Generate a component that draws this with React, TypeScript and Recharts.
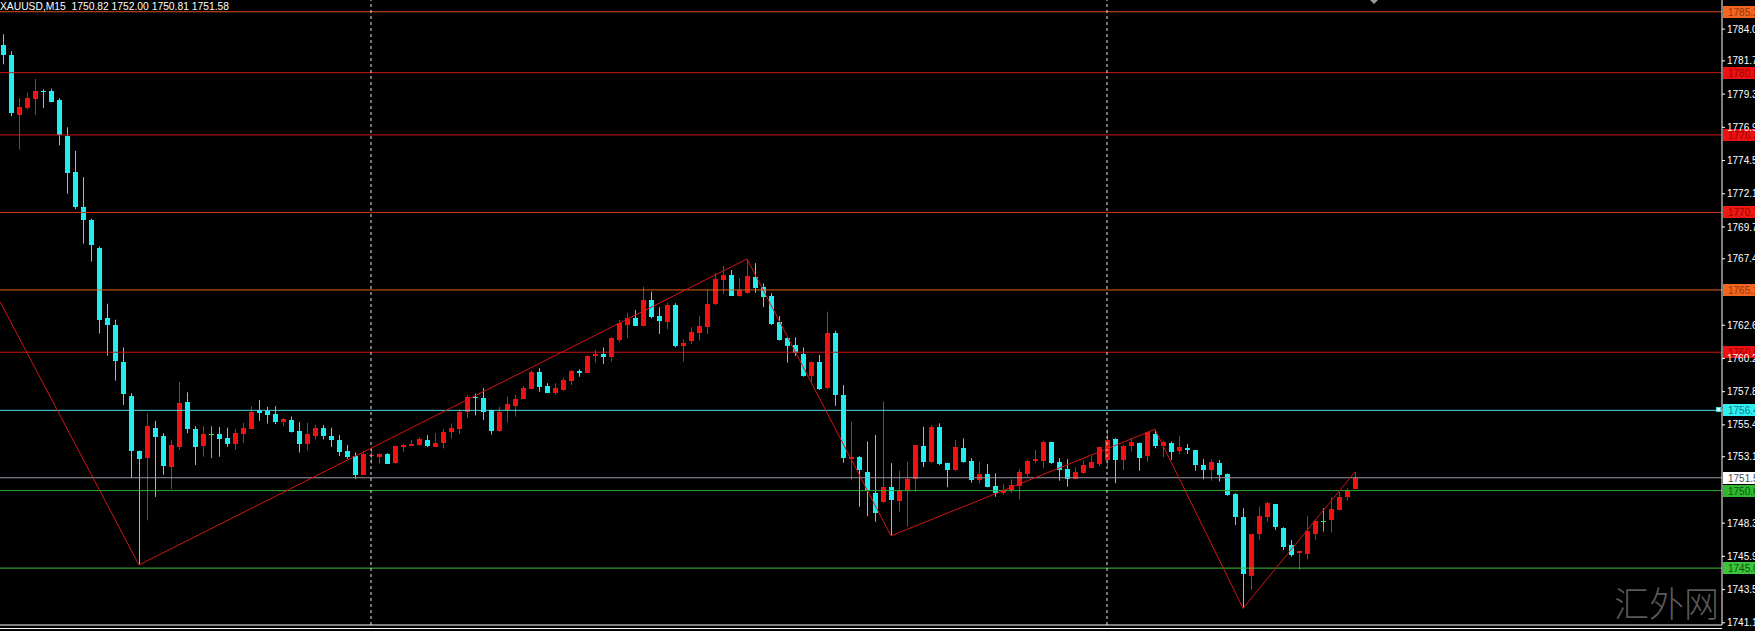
import { ComposedChart, Bar, Line, XAxis, YAxis, ReferenceLine } from 'recharts';

// XAUUSD M15, one entry per candle (oldest first)
const opens = [
  1782.82, 1782.09, 1777.8, 1778.3, 1778.95, 1779.5, 1779.5, 1778.9, 1776.28, 1773.7,
  1771.15, 1770.2, 1768.2, 1763.1, 1762.6, 1759.95, 1757.5, 1753.5, 1752.96, 1755.2,
  1754.6, 1752.35, 1753.8, 1757.05, 1755.1, 1753.85, 1754.73, 1754.75, 1754.45, 1754.0,
  1754.75, 1755.1, 1756.5, 1756.4, 1756.2, 1755.6, 1755.75, 1754.95, 1754.0, 1754.6,
  1755.15, 1754.6, 1754.3, 1753.5, 1753.15, 1751.8, 1753.15, 1753.05, 1753.3, 1752.6,
  1753.8, 1753.9, 1753.95, 1754.3, 1753.8, 1754.1, 1754.85, 1755.15, 1756.35, 1757.45,
  1757.35, 1756.5, 1754.91, 1756.43, 1756.72, 1757.25, 1758.05, 1759.2, 1758.21, 1757.73,
  1757.92, 1758.6, 1759.3, 1759.17, 1760.38, 1760.52, 1760.33, 1761.54, 1762.62, 1763.1,
  1762.55, 1764.43, 1763.27, 1762.86, 1764.07, 1761.1, 1761.41, 1762.02, 1762.5, 1764.12,
  1765.87, 1766.23, 1764.74, 1764.91, 1766.07, 1765.39, 1764.72, 1762.86, 1761.66, 1761.17,
  1760.52, 1758.88, 1759.92, 1758.05, 1762.02, 1757.56, 1752.99, 1753.06, 1751.98, 1750.5,
  1749.78, 1750.89, 1749.93, 1750.58, 1751.47, 1753.88, 1752.74, 1755.27, 1752.63, 1752.14,
  1753.71, 1752.82, 1751.42, 1751.83, 1750.99, 1750.5, 1750.7, 1750.99, 1751.85, 1752.74,
  1752.82, 1754.17, 1752.74, 1752.22, 1751.47, 1751.91, 1752.34, 1752.58, 1752.87, 1754.36,
  1752.87, 1753.88, 1754.07, 1753.15, 1754.75, 1753.88, 1754.12, 1753.47, 1753.71, 1753.59,
  1752.5, 1752.19, 1752.63, 1751.85, 1750.41, 1748.77, 1744.48, 1747.52, 1748.73, 1749.69,
  1747.97, 1746.72, 1746.17, 1746.13, 1747.57, 1748.48, 1748.48, 1749.3, 1750.17, 1750.82,
];
const highs = [
  1783.63, 1782.4, 1779.0, 1779.4, 1780.4, 1779.65, 1779.7, 1779.0, 1776.9, 1775.2,
  1773.3, 1770.3, 1768.3, 1764.15, 1763.0, 1761.0, 1757.7, 1753.55, 1756.24, 1755.7,
  1754.8, 1754.3, 1758.5, 1757.75, 1755.3, 1755.3, 1755.3, 1755.25, 1755.2, 1755.1,
  1755.55, 1756.75, 1757.2, 1756.7, 1756.75, 1755.9, 1756.0, 1755.6, 1755.55, 1755.4,
  1755.4, 1755.2, 1754.65, 1753.95, 1753.4, 1753.5, 1753.7, 1753.35, 1753.35, 1753.9,
  1754.0, 1754.3, 1754.5, 1754.65, 1754.8, 1755.1, 1755.5, 1756.5, 1757.55, 1757.65,
  1758.05, 1756.5, 1756.7, 1757.44, 1757.56, 1758.21, 1759.32, 1759.49, 1758.41, 1758.41,
  1758.84, 1759.37, 1759.42, 1760.45, 1760.81, 1761.0, 1761.73, 1762.98, 1763.5, 1763.7,
  1765.39, 1765.03, 1763.9, 1764.23, 1764.19, 1761.59, 1762.45, 1763.27, 1765.15, 1766.36,
  1766.88, 1766.59, 1765.99, 1767.39, 1767.08, 1765.63, 1764.91, 1763.27, 1761.73, 1761.73,
  1761.0, 1759.97, 1760.45, 1763.58, 1762.21, 1758.28, 1755.63, 1753.15, 1754.2, 1754.67,
  1757.08, 1752.63, 1752.09, 1752.74, 1753.95, 1755.27, 1755.4, 1755.51, 1752.67, 1754.31,
  1754.43, 1752.99, 1752.74, 1752.58, 1751.9, 1751.13, 1751.47, 1752.19, 1752.87, 1753.59,
  1754.26, 1754.19, 1752.99, 1752.92, 1752.34, 1752.82, 1753.15, 1753.83, 1755.08, 1754.43,
  1753.95, 1754.43, 1754.12, 1754.91, 1755.04, 1754.26, 1754.19, 1754.6, 1754.02, 1753.59,
  1752.92, 1752.92, 1752.87, 1751.9, 1750.46, 1749.38, 1747.52, 1749.49, 1749.85, 1749.69,
  1748.0, 1747.08, 1746.29, 1748.82, 1748.58, 1749.38, 1750.17, 1750.58, 1750.82, 1752.0,
];
const lows = [
  1781.45, 1777.7, 1775.3, 1778.2, 1777.8, 1778.3, 1778.7, 1775.6, 1772.1, 1771.0,
  1768.5, 1767.2, 1762.0, 1760.4, 1758.6, 1756.85, 1751.55, 1745.28, 1748.5, 1750.2,
  1751.8, 1750.75, 1753.6, 1754.8, 1752.5, 1753.1, 1753.0, 1753.1, 1753.8, 1753.6,
  1754.1, 1755.1, 1755.7, 1755.5, 1755.45, 1755.3, 1754.85, 1753.4, 1753.55, 1754.35,
  1754.35, 1753.8, 1753.15, 1752.95, 1751.5, 1751.8, 1752.6, 1752.6, 1752.6, 1752.6,
  1753.45, 1753.85, 1753.9, 1753.8, 1753.8, 1753.7, 1754.4, 1754.75, 1755.9, 1756.1,
  1755.75, 1754.7, 1754.9, 1755.56, 1756.0, 1757.25, 1757.97, 1757.8, 1757.68, 1757.56,
  1757.87, 1758.28, 1758.88, 1759.17, 1759.9, 1759.8, 1759.97, 1761.34, 1761.66, 1762.55,
  1762.55, 1763.1, 1761.97, 1762.3, 1761.0, 1759.97, 1761.25, 1761.49, 1761.97, 1764.06,
  1764.86, 1764.74, 1764.67, 1764.86, 1764.95, 1763.9, 1762.62, 1761.49, 1759.9, 1760.38,
  1758.88, 1758.52, 1757.92, 1757.97, 1756.77, 1752.67, 1751.42, 1749.49, 1748.8, 1748.4,
  1749.78, 1747.38, 1749.13, 1748.05, 1750.58, 1752.34, 1752.67, 1752.5, 1750.89, 1752.09,
  1752.67, 1751.23, 1751.18, 1750.89, 1750.21, 1750.34, 1750.5, 1750.02, 1751.66, 1752.63,
  1752.26, 1752.58, 1751.37, 1750.94, 1751.47, 1751.85, 1752.34, 1752.43, 1752.43, 1751.18,
  1752.14, 1753.47, 1752.09, 1752.74, 1753.71, 1753.06, 1752.87, 1753.3, 1753.3, 1752.09,
  1751.47, 1751.37, 1751.3, 1750.27, 1748.17, 1742.15, 1743.48, 1747.09, 1748.41, 1747.81,
  1746.36, 1745.88, 1744.92, 1745.69, 1747.09, 1747.69, 1747.62, 1749.3, 1749.93, 1750.81,
];
const closes = [
  1782.09, 1777.88, 1778.4, 1779.0, 1779.5, 1779.42, 1778.7, 1776.4, 1773.6, 1771.2,
  1770.2, 1768.4, 1763.0, 1762.6, 1760.0, 1757.65, 1753.5, 1752.95, 1755.3, 1754.55,
  1752.4, 1753.95, 1757.0, 1755.1, 1753.8, 1754.75, 1754.73, 1754.4, 1754.0, 1754.8,
  1755.15, 1756.35, 1756.3, 1756.1, 1755.6, 1755.8, 1754.9, 1754.0, 1754.75, 1755.15,
  1754.55, 1754.3, 1753.45, 1753.05, 1751.8, 1753.3, 1753.25, 1753.3, 1752.6, 1753.85,
  1753.95, 1754.05, 1754.35, 1753.85, 1754.1, 1754.9, 1755.15, 1756.35, 1757.45, 1757.35,
  1756.35, 1755.0, 1756.31, 1756.89, 1757.25, 1758.05, 1759.25, 1758.12, 1757.73, 1758.09,
  1758.65, 1759.3, 1759.17, 1760.38, 1760.5, 1760.28, 1761.7, 1762.79, 1763.1, 1762.55,
  1764.43, 1763.22, 1762.93, 1764.07, 1761.1, 1761.34, 1762.09, 1762.55, 1764.14, 1765.92,
  1766.23, 1764.74, 1765.15, 1766.16, 1765.27, 1764.67, 1762.69, 1761.59, 1761.1, 1760.57,
  1758.93, 1759.92, 1757.97, 1762.02, 1757.56, 1752.99, 1753.1, 1752.15, 1750.58, 1749.06,
  1750.89, 1749.98, 1750.7, 1751.47, 1753.95, 1752.74, 1755.27, 1752.58, 1752.09, 1753.83,
  1752.67, 1751.42, 1751.85, 1750.89, 1750.5, 1750.7, 1751.06, 1752.02, 1752.82, 1752.92,
  1754.19, 1752.63, 1752.14, 1751.47, 1751.98, 1752.5, 1752.74, 1753.78, 1754.31, 1752.87,
  1753.88, 1754.14, 1752.99, 1754.87, 1753.88, 1754.19, 1753.47, 1753.78, 1753.54, 1752.5,
  1752.14, 1752.74, 1751.78, 1750.34, 1748.73, 1744.68, 1747.52, 1748.82, 1749.74, 1748.0,
  1746.6, 1746.0, 1746.29, 1747.76, 1748.48, 1748.48, 1749.3, 1750.21, 1750.7, 1751.58,
];

// zigzag swing points: candle index, price
const zigzag = [
  { i: -0.375, p: 1764.3 },
  { i: 17, p: 1745.28 },
  { i: 93, p: 1767.39 },
  { i: 111, p: 1747.38 },
  { i: 144, p: 1755.08 },
  { i: 155, p: 1742.15 },
  { i: 169, p: 1752.0 },
];

// price scale labels (the ones not covered by level tags)
const priceTicks = [
  1741.1, 1743.5, 1745.9, 1748.3, 1753.1, 1755.4, 1757.8, 1760.2, 1762.6,
  1767.4, 1769.7, 1772.1, 1774.5, 1776.9, 1779.3, 1781.7, 1784.0,
];

// horizontal levels with their price tags
const levels = [
  { price: 1785.25, text: '1785.2', line: '#e0521c', box: '#f2661f', ink: '#9a3409' },
  { price: 1780.85, text: '1780.8', line: '#c81818', box: '#ec1212', ink: '#9c0000' },
  { price: 1776.35, text: '1776.3', line: '#d01616', box: '#ec1212', ink: '#9c0000' },
  { price: 1770.75, text: '1770.7', line: '#d8361a', box: '#ec1a14', ink: '#9c0000' },
  { price: 1765.15, text: '1765.1', line: '#e0601c', box: '#f2661f', ink: '#9a3409' },
  { price: 1760.65, text: '1760.6', line: '#d01212', box: '#ec1212', ink: '#9c0000' },
  { price: 1756.45, text: '1756.4', line: '#50d8e2', box: '#2ef0f2', ink: '#157d84', handle: true },
  { price: 1751.58, text: '1751.5', line: '#9a9aaa', box: '#ffffff', ink: '#4a4a4a' },
  { price: 1750.65, text: '1750.6', line: '#30b030', box: '#30b830', ink: '#0a560a' },
  { price: 1745.05, text: '1745.0', line: '#40c040', box: '#3cc43c', ink: '#0a560a' },
];

// day separators at these candle indexes
const separators = [46, 138];

const title = 'XAUUSD,M15  1750.82 1752.00 1750.81 1751.58';

const candles = opens.map((o, i) => ({ i, o, h: highs[i], l: lows[i], c: closes[i] }));

const BULL = '#f01212';
const BEAR = '#22eef2';
const DOJI = '#3ce03c';
const FONT = '"Liberation Sans", Arial, sans-serif';

function Candle(props: any) {
  const { x, y, width, height, payload } = props;
  if (!payload || !isFinite(y) || !isFinite(height)) return null;
  const top = Math.min(y, y + height);
  const h = Math.abs(height);
  const k = h / (payload.h - payload.l);
  const cx = Math.round(x + width / 2);
  const oy = top + (payload.h - payload.o) * k;
  const cy = top + (payload.h - payload.c) * k;
  const color = payload.c > payload.o ? BULL : payload.c < payload.o ? BEAR : DOJI;
  const bt = Math.round(Math.min(oy, cy));
  const bh = Math.max(1, Math.round(Math.abs(oy - cy)));
  return (
    <g>
      <line x1={cx + 0.5} x2={cx + 0.5} y1={top} y2={top + h} stroke={color} strokeWidth={1} />
      <rect x={cx - 2} y={bt} width={5} height={bh} fill={color} />
    </g>
  );
}

function LevelTag(props: any) {
  const { viewBox, lv } = props;
  if (!viewBox) return null;
  const right = viewBox.x + viewBox.width;
  const y = Math.round(viewBox.y);
  return (
    <g>
      {lv.handle && <rect x={right - 5.5} y={y - 2.5} width={4} height={4} fill="#e8ffff" stroke={lv.line} />}
      <rect x={right + 1} y={y - 6} width={40} height={12} fill={lv.box} />
      <text x={right + 6} y={y + 4} fontSize={10} fill={lv.ink} fontFamily={FONT}>
        {lv.text}
      </text>
    </g>
  );
}

export default function App() {
  return (
    <div style={{ position: 'absolute', left: 0, top: 0, width: 1755, height: 631, background: '#000', overflow: 'hidden' }}>
      <ComposedChart width={1755} height={631} data={candles} margin={{ top: 0, right: 0, bottom: 0, left: 0 }}>
        <XAxis
          type="number"
          dataKey="i"
          domain={[-0.375, 214.875]}
          allowDataOverflow
          tick={false}
          tickLine={false}
          height={6}
          axisLine={{ stroke: '#ffffff' }}
        />
        <YAxis
          orientation="right"
          width={33}
          domain={[1740.94, 1786.1]}
          allowDataOverflow
          ticks={priceTicks}
          interval={0}
          tickSize={3}
          tickMargin={2}
          tickFormatter={(v: number) => v.toFixed(1)}
          tick={{ fill: '#ffffff', fontSize: 10, fontFamily: FONT }}
          tickLine={{ stroke: '#ffffff' }}
          axisLine={{ stroke: '#ffffff' }}
        />
        {levels.map((lv) => (
          <ReferenceLine
            key={lv.text}
            y={lv.price}
            stroke={lv.line}
            strokeWidth={1}
            label={(p: any) => <LevelTag {...p} lv={lv} />}
          />
        ))}
        {separators.map((s) => (
          <ReferenceLine key={s} x={s} stroke="#e6e6e6" strokeDasharray="3 3" />
        ))}
        <Line
          data={zigzag}
          dataKey="p"
          type="linear"
          stroke="#d41414"
          strokeWidth={1}
          dot={false}
          activeDot={false}
          isAnimationActive={false}
        />
        <Bar
          dataKey={(d: any) => [d.l, d.h]}
          barSize={5}
          shape={(p: any) => <Candle {...p} />}
          isAnimationActive={false}
        />
      </ComposedChart>
      <svg width={1755} height={631} style={{ position: 'absolute', left: 0, top: 0, pointerEvents: 'none' }}>
        <text x={0} y={10} fontSize={10.3} fill="#ffffff" fontFamily={FONT} style={{ whiteSpace: 'pre' }}>
          {title}
        </text>
        <polygon points="1370,0 1378,0 1374,4" fill="#9a9a9a" />
        <line x1={0} x2={1722} y1={628.5} y2={628.5} stroke="#ffffff" />
        <text x={1614} y={617} fontSize={35} fill="#5a5a5a" fontFamily='"Noto Sans CJK SC"' fontWeight={300}>
          汇外网
        </text>
      </svg>
    </div>
  );
}
